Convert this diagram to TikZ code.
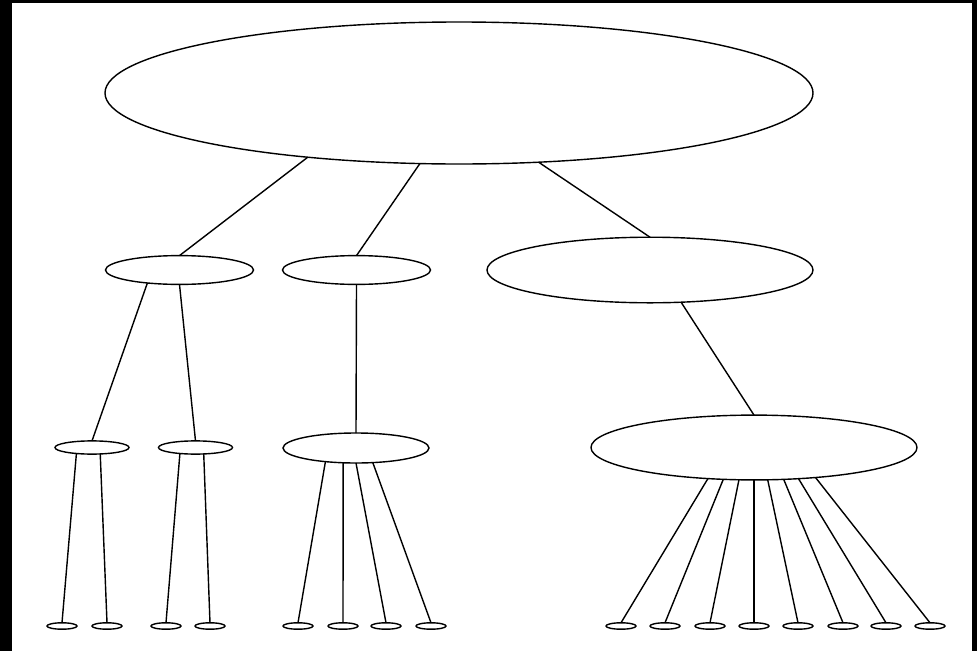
\documentclass[tikz,border=0pt]{standalone}
\usetikzlibrary{shapes.geometric}

\begin{document}
\begin{tikzpicture}[x=0.25mm,y=-0.25mm,
	blob/.style={ellipse,draw,fill=white,inner sep=0pt,outer sep=0pt,line width=1pt},
	leaf/.style={blob,minimum width=7.5mm,minimum height=1.6mm},
	edge/.style={line width=1pt}]
		
		\fill[black] (0,0) rectangle (977,651);
		\fill[white] (12,3) rectangle (972,651);
		
		% root
		\node[blob,minimum width=177mm,minimum height=35.5mm]
		(top) at (459,93) {};
		
		% second row
		\node[blob,minimum width=37mm,minimum height=7.2mm]
		(left) at (179.5,270) {};
		
		\node[blob,minimum width=37mm,minimum height=7.2mm]
		(mid) at (356.5,270) {};
		
		\node[blob,minimum width=81.5mm,minimum height=16.4mm]
		(right) at (650,270) {};
		
		% third row
		\node[blob,minimum width=18.5mm,minimum height=3.3mm]
		(ll) at (92,447.5) {};
		
		\node[blob,minimum width=18.5mm,minimum height=3.3mm]
		(lr) at (195.5,447.5) {};
		
		\node[blob,minimum width=36.5mm,minimum height=7.5mm]
		(midc) at (356,448) {};
		
		\node[blob,minimum width=81.5mm,minimum height=16.2mm]
		(rightc) at (754,447.5) {};
		
		% leaves
		\node[leaf] (ll1) at (62,626) {};
		\node[leaf] (ll2) at (107,626) {};
		\node[leaf] (lr1) at (166,626) {};
		\node[leaf] (lr2) at (210,626) {};
		
		\node[leaf] (m1) at (298,626) {};
		\node[leaf] (m2) at (343,626) {};
		\node[leaf] (m3) at (386,626) {};
		\node[leaf] (m4) at (431,626) {};
		
		\node[leaf] (r1) at (621,626) {};
		\node[leaf] (r2) at (665,626) {};
		\node[leaf] (r3) at (710,626) {};
		\node[leaf] (r4) at (754,626) {};
		\node[leaf] (r5) at (798,626) {};
		\node[leaf] (r6) at (843,626) {};
		\node[leaf] (r7) at (886,626) {};
		\node[leaf] (r8) at (930,626) {};
		
		% connectors
		\draw[edge] (top.203) -- (left.north);
		\draw[edge] (top.241) -- (mid.north);
		\draw[edge] (top.319) -- (right.north);
		
		\draw[edge] (left.202) -- (ll.north);
		\draw[edge] (left.south) -- (lr.north);
		\draw[edge] (mid.south) -- (midc.north);
		\draw[edge] (right.314) -- (rightc.north);
		
		\draw[edge] (ll.201) -- (ll1.north);
		\draw[edge] (ll.322) -- (ll2.north);
		\draw[edge] (lr.201) -- (lr1.north);
		\draw[edge] (lr.322) -- (lr2.north);
		
		\draw[edge] (midc.204) -- (m1.north);
		\draw[edge] (midc.229) -- (m2.north);
		\draw[edge] (midc.south) -- (m3.north);
		\draw[edge] (midc.319) -- (m4.north);
		
		\draw[edge] (rightc.214) -- (r1.north);
		\draw[edge] (rightc.226) -- (r2.north);
		\draw[edge] (rightc.245) -- (r3.north);
		\draw[edge] (rightc.south) -- (r4.north);
		\draw[edge] (rightc.293) -- (r5.north);
		\draw[edge] (rightc.313) -- (r6.north);
		\draw[edge] (rightc.325) -- (r7.north);
		\draw[edge] (rightc.334) -- (r8.north);
		
	\end{tikzpicture}
\end{document}
